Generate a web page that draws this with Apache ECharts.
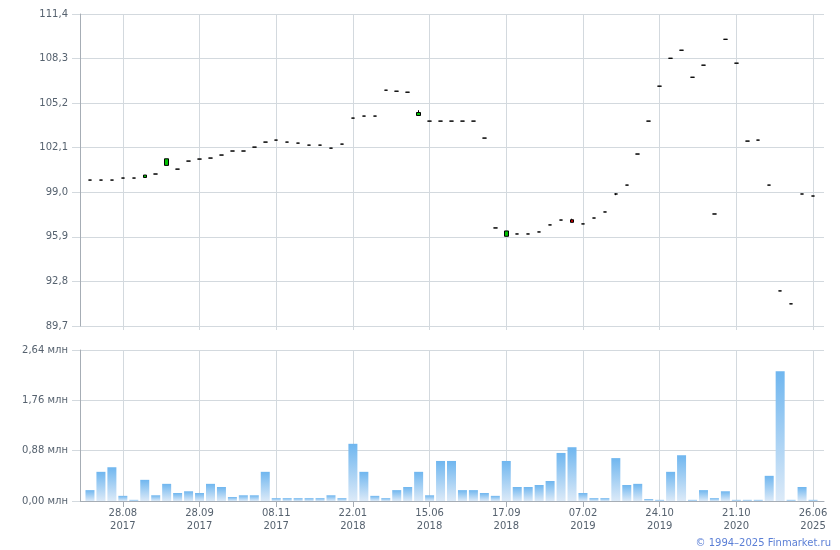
<!DOCTYPE html>
<html>
<head>
<meta charset="utf-8">
<script src="https://cdn.jsdelivr.net/npm/echarts@6/dist/echarts.min.js"></script>
<style>html,body{margin:0;padding:0;background:#fff}#c{width:840px;height:550px}</style>
</head>
<body>
<div id="c"></div>
<script>
// Tick labels shown on the date axis (every 7th period, starting at period 3)
const tickLabels = ['28.08\n2017','28.09\n2017','08.11\n2017','22.01\n2018','15.06\n2018','17.09\n2018','07.02\n2019','24.10\n2019','21.10\n2020','26.06\n2025'];
const firstTick = 3, tickStep = 7, periodCount = 67;

// Price candles: open, close, low, high
const opens  = [99.85,99.85,99.85,99.99,99.99,100.03,100.27,100.87,100.61,101.17,101.31,101.38,101.59,101.87,101.87,102.14,102.49,102.63,102.49,102.42,102.28,102.28,102.07,102.35,104.16,104.30,104.30,106.10,106.03,105.96,104.34,103.95,103.95,103.95,103.95,103.95,102.77,96.52,95.94,96.10,96.10,96.24,96.73,97.07,97.09,96.80,97.21,97.63,98.88,99.50,101.66,103.95,106.38,108.32,108.88,107.00,107.84,97.49,109.64,107.98,102.56,102.63,99.50,92.14,91.24,98.88,98.74];
const closes = [99.85,99.85,99.85,99.99,99.99,100.20,100.27,101.33,100.61,101.17,101.31,101.38,101.59,101.87,101.87,102.14,102.49,102.63,102.49,102.42,102.28,102.28,102.07,102.35,104.16,104.30,104.30,106.10,106.03,105.96,104.55,103.95,103.95,103.95,103.95,103.95,102.77,96.52,96.31,96.10,96.10,96.24,96.73,97.07,96.91,96.80,97.21,97.63,98.88,99.50,101.66,103.95,106.38,108.32,108.88,107.00,107.84,97.49,109.64,107.98,102.56,102.63,99.50,92.14,91.24,98.88,98.74];
const lows   = [99.85,99.85,99.85,99.99,99.99,100.03,100.27,100.87,100.61,101.17,101.31,101.38,101.59,101.87,101.87,102.14,102.49,102.63,102.49,102.42,102.28,102.28,102.07,102.35,104.16,104.30,104.30,106.10,106.03,105.96,104.34,103.95,103.95,103.95,103.95,103.95,102.77,96.52,95.94,96.10,96.10,96.24,96.73,97.07,96.91,96.80,97.21,97.63,98.80,99.50,101.66,103.95,106.38,108.32,108.88,107.00,107.84,97.49,109.64,107.98,102.56,102.63,99.50,92.14,91.24,98.88,98.74];
const highs  = [99.85,99.85,99.85,99.99,99.99,100.20,100.27,101.33,100.61,101.17,101.31,101.38,101.59,101.87,101.87,102.14,102.49,102.63,102.49,102.42,102.28,102.28,102.07,102.35,104.16,104.30,104.30,106.10,106.03,105.96,104.71,103.95,103.95,103.95,103.95,103.95,102.77,96.52,96.31,96.10,96.10,96.24,96.73,97.07,97.16,96.80,97.21,97.63,98.92,99.50,101.66,103.95,106.38,108.32,108.88,107.00,107.84,97.49,109.64,107.98,102.56,102.63,99.50,92.14,91.24,98.88,98.74];

// Volume, millions
const volumes = [0.19,0.51,0.59,0.09,0.02,0.37,0.10,0.30,0.14,0.17,0.14,0.30,0.245,0.07,0.10,0.10,0.51,0.05,0.05,0.05,0.05,0.05,0.10,0.05,1.00,0.51,0.09,0.05,0.19,0.245,0.51,0.10,0.70,0.70,0.19,0.19,0.14,0.09,0.70,0.245,0.245,0.28,0.35,0.84,0.94,0.14,0.05,0.05,0.75,0.28,0.30,0.035,0.02,0.51,0.80,0.02,0.19,0.05,0.17,0.02,0.02,0.02,0.44,2.27,0.02,0.245,0.02];

const priceMin = 89.7, priceMax = 111.4, priceStep = 3.1;
const volMin = 0, volMax = 2.64, volStep = 0.88;

const categories = Array.from({length: periodCount}, (_, i) =>
  (i >= firstTick && (i - firstTick) % tickStep === 0) ? tickLabels[(i - firstTick) / tickStep] : '');
const isTick = (i) => i >= firstTick && (i - firstTick) % tickStep === 0;

const FONT = 'DejaVu Sans';
const labelColor = '#56626f';
const gridColor = '#d3d9de';
const axisColor = '#a6adb5';

const candleData = opens.map((o, i) => [o, closes[i], lows[i], highs[i]]);

const chart = echarts.init(document.getElementById('c'), null, {renderer: 'canvas'});

const bgY = (min, max, step, fmt, gi) => ({
  type: 'value', gridIndex: gi, min, max, interval: step,
  axisLine: {show: true, lineStyle: {color: axisColor}},
  axisTick: {show: true, length: 8, lineStyle: {color: gridColor}},
  axisLabel: {color: labelColor, fontFamily: FONT, fontSize: 10, margin: 12, formatter: fmt},
  splitLine: {show: true, lineStyle: {color: gridColor}}
});
const dataY = (min, max, gi) => ({type: 'value', gridIndex: gi, min, max, show: false, splitLine: {show: false}});
const bgX = (gi, line) => ({type: 'value', gridIndex: gi, min: 0, max: 1, axisLabel: {show: false}, axisTick: {show: false}, splitLine: {show: false}, axisLine: {show: line, onZero: false, lineStyle: {color: axisColor}}});
const dataX = (gi, labels) => ({
  type: 'category', gridIndex: gi, data: categories, boundaryGap: true,
  axisLine: {show: false},
  axisTick: {show: true, alignWithLabel: true, interval: (i) => isTick(i), length: labels ? 6 : 4, lineStyle: {color: labels ? axisColor : gridColor}},
  axisLabel: {show: labels, interval: (i) => isTick(i), color: labelColor, fontFamily: FONT, fontSize: 10, lineHeight: 13, margin: 6},
  splitLine: {show: true, alignWithLabel: true, interval: (i) => isTick(i), lineStyle: {color: gridColor}}
});

chart.setOption({
  animation: false,
  backgroundColor: '#fff',
  grid: [
    {left: 80, top: 14, width: 744, height: 312},
    {left: 84.5, top: 14, width: 734, height: 312},
    {left: 80, top: 350, width: 744, height: 151},
    {left: 84.5, top: 350, width: 734, height: 151}
  ],
  xAxis: [bgX(0, false), dataX(1, false), bgX(2, true), dataX(3, true)],
  yAxis: [
    bgY(priceMin, priceMax, priceStep, (v) => v.toFixed(1).replace('.', ','), 0),
    dataY(priceMin, priceMax, 1),
    bgY(volMin, volMax, volStep, (v) => v.toFixed(2).replace('.', ',') + ' млн', 2),
    dataY(volMin, volMax, 3)
  ],
  series: [
    {
      type: 'candlestick', xAxisIndex: 1, yAxisIndex: 1, data: candleData, barWidth: 4,
      itemStyle: {color: '#00c000', color0: '#d40000', borderColor: '#000', borderColor0: '#000', borderColorDoji: '#000', borderWidth: 1}
    },
    {
      type: 'bar', xAxisIndex: 3, yAxisIndex: 3, data: volumes, barWidth: 9,
      itemStyle: {color: new echarts.graphic.LinearGradient(0, 0, 0, 1, [{offset: 0, color: '#6fb6ef'}, {offset: 1, color: '#dceaf8'}])}
    }
  ],
  graphic: [
    {type: 'text', right: 9, bottom: 2, style: {text: '© 1994–2025 Finmarket.ru', fill: '#5b7fd6', font: '10px "DejaVu Sans"'}}
  ]
});
</script>
</body>
</html>
